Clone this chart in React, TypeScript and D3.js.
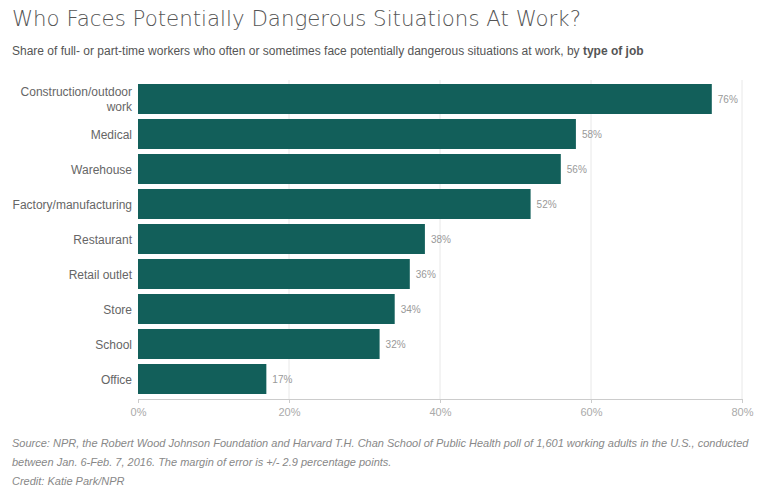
import { useEffect, useRef } from "react";
import * as d3 from "d3";

const categories = [
  "Construction/outdoor work",
  "Medical",
  "Warehouse",
  "Factory/manufacturing",
  "Restaurant",
  "Retail outlet",
  "Store",
  "School",
  "Office",
];
const shares = [76, 58, 56, 52, 38, 36, 34, 32, 17];
const tickValues = [0, 20, 40, 60, 80];

const title = "Who Faces Potentially Dangerous Situations At Work?";
const subtitle = "Share of full- or part-time workers who often or sometimes face potentially dangerous situations at work, by ";
const subtitleBold = "type of job";
const footnotes = [
  "Source: NPR, the Robert Wood Johnson Foundation and Harvard T.H. Chan School of Public Health poll of 1,601 working adults in the U.S., conducted",
  "between Jan. 6-Feb. 7, 2016. The margin of error is +/- 2.9 percentage points.",
  "Credit: Katie Park/NPR",
];

export default function App() {
  const svgRef = useRef<SVGSVGElement>(null);

  useEffect(() => {
    if (!svgRef.current) return;
    const width = 771;
    const height = 502;
    const svg = d3.select(svgRef.current);
    svg.selectAll("*").remove();
    svg.attr("width", width).attr("height", height);

    const font = "'Liberation Sans', Arial, sans-serif";
    const left = 138;
    const right = 742;
    const top = 84;
    const axisY = 399;

    const x = d3.scaleLinear().domain([0, 80]).range([left, right]);
    const y = d3
      .scaleBand<string>()
      .domain(categories)
      .range([top, 394])
      .paddingInner(5 / 35)
      .paddingOuter(0);

    // Title + subtitle
    svg
      .append("text")
      .attr("x", 12)
      .attr("y", 26)
      .attr("font-family", "'DejaVu Sans', sans-serif")
      .attr("font-weight", 200)
      .attr("font-size", 21)
      .attr("fill", "#555")
      .attr("textLength", 569)
      .attr("lengthAdjust", "spacingAndGlyphs")
      .text(title);

    const sub = svg
      .append("text")
      .attr("x", 12)
      .attr("y", 55)
      .attr("font-family", font)
      .attr("font-size", 12)
      .attr("fill", "#555");
    sub.append("tspan").text(subtitle);
    sub.append("tspan").attr("font-weight", "bold").text(subtitleBold);

    // Gridlines
    svg
      .append("g")
      .selectAll("line")
      .data(tickValues.slice(1))
      .join("line")
      .attr("x1", (d) => x(d))
      .attr("x2", (d) => x(d))
      .attr("y1", 80)
      .attr("y2", axisY)
      .attr("stroke", "#e8e8e8")
      .attr("stroke-width", 1);

    // Axis
    const axis = svg
      .append("g")
      .attr("transform", `translate(0,${axisY})`)
      .call(
        d3
          .axisBottom(x)
          .tickValues(tickValues)
          .tickFormat((d) => `${d}%`)
          .tickSize(4)
          .tickSizeOuter(0)
      );
    axis.select(".domain").attr("stroke", "#ccc");
    axis.selectAll(".tick line").attr("stroke", "#ccc");
    axis
      .selectAll(".tick text")
      .attr("fill", "#aaa")
      .attr("font-family", font)
      .attr("font-size", 11)
      .attr("dy", "0.95em");

    // Bars
    svg
      .append("g")
      .selectAll("rect")
      .data(categories)
      .join("rect")
      .attr("x", x(0))
      .attr("y", (d) => y(d)!)
      .attr("width", (d, i) => x(shares[i]) - x(0))
      .attr("height", y.bandwidth())
      .attr("fill", "#125f5a");

    // Value labels
    svg
      .append("g")
      .selectAll("text")
      .data(categories)
      .join("text")
      .attr("x", (d, i) => x(shares[i]) + 6)
      .attr("y", (d) => y(d)! + y.bandwidth() / 2 + 3.5)
      .attr("font-family", font)
      .attr("font-size", 10)
      .attr("fill", "#999")
      .text((d, i) => `${shares[i]}%`);

    // Category labels
    const labels = svg
      .append("g")
      .selectAll("text")
      .data(categories)
      .join("text")
      .attr("text-anchor", "end")
      .attr("font-family", font)
      .attr("font-size", 12)
      .attr("fill", "#666");
    labels.each(function (d) {
      const t = d3.select(this);
      const cy = y(d)! + y.bandwidth() / 2;
      const lines = d === "Construction/outdoor work" ? ["Construction/outdoor", "work"] : [d];
      lines.forEach((line, i) => {
        t.append("tspan")
          .attr("x", 132)
          .attr("y", cy + 4.5 + (i - (lines.length - 1) / 2) * 14.5)
          .text(line);
      });
    });

    // Footnotes
    svg
      .append("g")
      .selectAll("text")
      .data(footnotes)
      .join("text")
      .attr("x", 12)
      .attr("y", (d, i) => 447 + i * 19)
      .attr("font-family", font)
      .attr("font-style", "italic")
      .attr("font-size", 11)
      .attr("fill", "#888")
      .text((d) => d);
  }, []);

  return (
    <div style={{ position: "absolute", left: 0, top: 0, background: "#fff" }}>
      <svg ref={svgRef} />
    </div>
  );
}
